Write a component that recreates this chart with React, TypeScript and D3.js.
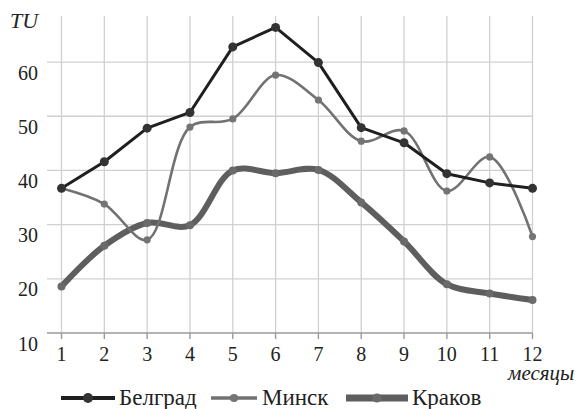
import * as d3 from 'd3';

const months = [1, 2, 3, 4, 5, 6, 7, 8, 9, 10, 11, 12];
const belgrade = [36.7, 41.6, 47.8, 50.7, 62.8, 66.4, 59.9, 47.9, 45.1, 39.4, 37.7, 36.7];
const minsk = [36.7, 33.8, 27.2, 48.0, 49.5, 57.6, 53.0, 45.4, 47.3, 36.2, 42.5, 27.8];
const krakow = [18.6, 26.1, 30.3, 29.9, 40.0, 39.5, 40.1, 34.1, 26.9, 19.0, 17.3, 16.1];
const yTicks = [10, 20, 30, 40, 50, 60];

const W = 582;
const H = 409;
const serif = '"Liberation Serif", "DejaVu Serif", serif';

const series = [
  { name: 'Белград', values: belgrade, color: '#1f1f1f', width: 3, r: 4.5, dot: '#333', smooth: false, lx: [61, 115], tx: 119 },
  { name: 'Минск', values: minsk, color: '#727272', width: 2.6, r: 3.6, dot: '#747474', smooth: true, lx: [211, 257], tx: 262 },
  { name: 'Краков', values: krakow, color: '#5e5e5e', width: 6, r: 4, dot: '#6a6a6a', smooth: true, lx: [346, 408], tx: 412 },
];

export default function App() {
  const x = d3.scaleLinear().domain([1, 12]).range([61.5, 532.5]);
  const y = d3.scaleLinear().domain([10, 68.5]).range([333, 16]);
  const left = 47;

  return (
    <svg width={W} height={H} style={{ position: 'absolute', left: 0, top: 0, background: '#fff' }}>
      {/* grid */}
      {months.map((m) => (
        <line key={'v' + m} x1={x(m)} x2={x(m)} y1={y(68.5)} y2={y(10)} stroke="#d0d0d4" strokeWidth={1.3} />
      ))}
      {yTicks.filter((t) => t > 10).map((t) => (
        <line key={'h' + t} x1={left} x2={x(12)} y1={y(t)} y2={y(t)} stroke="#d0d0d4" strokeWidth={1.3} />
      ))}
      {/* x axis */}
      <line x1={left} x2={x(12)} y1={y(10)} y2={y(10)} stroke="#9a9a9a" strokeWidth={1.6} />
      {months.map((m) => (
        <g key={'t' + m}>
          <line x1={x(m)} x2={x(m)} y1={y(10)} y2={y(10) + 6} stroke="#9a9a9a" strokeWidth={1.4} />
          <text x={x(m)} y={361} textAnchor="middle" fontFamily={serif} fontSize={20} fill="#222">{m}</text>
        </g>
      ))}
      {yTicks.map((t) => (
        <text key={'yl' + t} x={38} y={y(t) + 17.5} textAnchor="end" fontFamily={serif} fontSize={20} fill="#222">{t}</text>
      ))}
      <text x={10} y={28} fontFamily={serif} fontStyle="italic" fontSize={22} fill="#222">TU</text>
      <text x={508} y={380} fontFamily={serif} fontStyle="italic" fontSize={21} fill="#222">месяцы</text>

      {/* lines */}
      {series.slice().reverse().map((s) => {
        const gen = d3.line<number>()
          .x((_, i) => x(months[i]))
          .y((d) => y(d))
          .curve(s.smooth ? d3.curveCatmullRom.alpha(0.5) : d3.curveLinear);
        return (
          <g key={s.name}>
            <path d={gen(s.values) ?? ''} fill="none" stroke={s.color} strokeWidth={s.width} strokeLinejoin="round" strokeLinecap="round" />
            {s.values.map((v, i) => (
              <circle key={i} cx={x(months[i])} cy={y(v)} r={s.r} fill={s.dot} />
            ))}
          </g>
        );
      })}

      {/* legend */}
      {series.map((s) => (
        <g key={'lg' + s.name}>
          <line x1={s.lx[0]} x2={s.lx[1]} y1={398} y2={398} stroke={s.color} strokeWidth={s.width + 1} />
          <circle cx={(s.lx[0] + s.lx[1]) / 2} cy={398} r={s.r + 0.5} fill={s.dot} />
          <text x={s.tx} y={405} fontFamily={serif} fontSize={23} fill="#222">{s.name}</text>
        </g>
      ))}
    </svg>
  );
}
